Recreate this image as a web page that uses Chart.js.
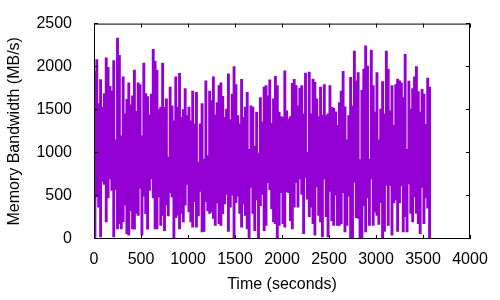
<!DOCTYPE html>
<html>
<head>
<meta charset="utf-8">
<script src="https://cdn.jsdelivr.net/npm/chart.js@4/dist/chart.umd.min.js"></script>
<style>
html,body{margin:0;padding:0;background:#fff;}
#wrap{width:500px;height:300px;}
</style>
</head>
<body>
<div id="wrap"><canvas id="c" width="500" height="300"></canvas></div>
<script>
// Sampling interval of the summarised series (seconds per bucket)
const sampleSeconds = 20;

// Highest bandwidth reached within each 20 s bucket (MB/s)
const peaks = [
  1942,2079,1570,1847,1525,1685,2100,1990,1770,1715,
  2070,1150,2330,2130,1195,1880,1450,1620,1810,1555,
  1660,1960,1480,1810,1790,1195,2040,1685,1650,1440,
  1680,2200,2060,1960,1500,1530,2040,1525,1625,950,
  1760,1545,1370,1880,1525,1920,1410,1500,1745,1430,
  1530,1370,1715,1335,1700,890,1335,1570,925,1835,
  965,1715,1605,1880,1440,1580,1780,1810,1655,1410,
  1505,1915,1385,1680,2000,1790,1430,1335,1850,1410,
  1530,1700,1040,1545,1530,1075,1470,995,1640,1355,
  1760,1780,1660,1845,1340,1625,1885,1780,1470,1420,
  1411,1950,1487,1392,1420,1805,1850,1780,1545,1750,
  1780,1450,1925,1005,1935,1450,1855,1815,1625,1420,
  1760,1437,1790,1430,1450,1780,1525,1517,1475,1316,
  1582,1715,1945,1532,1150,1430,1875,1545,2180,1830,
  1930,920,1723,1970,2240,2005,925,2190,1780,1470,
  1930,1150,1505,1825,1450,2180,1970,1487,1780,1316,
  1790,1855,1835,1810,1640,2140,1040,1830,1505,1745,
  1880,2000,1708,1470,1735,1680,1330,1865,1760
];

// Lowest bandwidth reached within each 20 s bucket (MB/s)
const troughs = [
  20,490,370,25,670,635,200,480,700,565,
  25,575,120,180,120,200,395,65,45,330,
  120,115,300,275,590,45,500,295,115,565,
  700,480,120,120,490,160,275,100,395,270,
  540,490,0,250,280,120,300,200,395,635,
  315,200,140,435,140,270,555,85,90,435,
  330,300,315,240,160,420,180,160,295,410,
  520,90,370,510,15,425,500,300,140,405,
  275,120,15,600,300,100,455,0,390,520,
  100,160,655,575,350,200,180,0,160,540,
  180,140,550,540,215,120,370,660,370,700,
  520,65,715,465,260,370,180,45,605,275,
  200,25,700,260,25,555,215,160,510,160,
  160,180,540,85,160,500,15,0,660,250,
  240,15,0,390,85,480,160,700,160,315,
  275,170,425,15,90,625,160,625,45,420,
  455,90,420,620,85,260,85,640,300,200,
  490,300,180,65,600,180,480,360,15
];

const xTicks = [0,500,1000,1500,2000,2500,3000,3500,4000];
const yTicks = [0,500,1000,1500,2000,2500];
const xTitle = 'Time (seconds)';
const yTitle = 'Memory Bandwidth (MB/s)';

// each bucket drawn as the range it covered, centred on the bucket
const ranges = peaks.map((p, i) => ({x: i * sampleSeconds + sampleSeconds / 2, y: [troughs[i], p]}));

const FONT = "'Liberation Sans', Arial, sans-serif";

const framePlugin = {
  id: 'frame',
  afterDatasetsDraw(chart) {
    const {ctx, chartArea: a, scales: {x, y}} = chart;
    ctx.save();
    ctx.strokeStyle = '#000';
    ctx.lineWidth = 1;
    ctx.beginPath();
    ctx.rect(a.left + 0.5, a.top + 0.5, a.right - a.left - 1, a.bottom - a.top - 1);
    ctx.stroke();
    const tl = 4;
    ctx.beginPath();
    xTicks.forEach(v => {
      const px = Math.round(x.getPixelForValue(v)) + 0.5;
      ctx.moveTo(px, a.bottom); ctx.lineTo(px, a.bottom - tl);
      ctx.moveTo(px, a.top); ctx.lineTo(px, a.top + tl);
    });
    yTicks.forEach(v => {
      const py = Math.round(y.getPixelForValue(v)) - 0.5;
      ctx.moveTo(a.left, py); ctx.lineTo(a.left + tl, py);
      ctx.moveTo(a.right, py); ctx.lineTo(a.right - tl, py);
    });
    ctx.stroke();
    ctx.restore();
  }
};

new Chart(document.getElementById('c'), {
  type: 'bar',
  data: {
    datasets: [{
      data: ranges,
      backgroundColor: '#9400d3',
      borderWidth: 0,
      barPercentage: 1,
      categoryPercentage: 1,
      inflateAmount: 0.5
    }]
  },
  options: {
    responsive: false,
    animation: false,
    devicePixelRatio: 1,
    layout: {padding: {left: 0, top: 19, right: 30, bottom: 0}},
    plugins: {legend: {display: false}, tooltip: {enabled: false}},
    scales: {
      x: {
        type: 'linear',
        min: 0, max: 4000,
        offset: false,
        afterBuildTicks: s => { s.ticks = xTicks.map(v => ({value: v})); },
        afterFit: s => { s.height = 61; },
        grid: {display: false, offset: false},
        border: {display: false},
        ticks: {color: '#000', font: {family: FONT, size: 16}, padding: 3, maxRotation: 0, autoSkip: false,
                callback: v => String(v)},
        title: {display: true, text: xTitle, color: '#000', font: {family: FONT, size: 16}, padding: {top: 0, bottom: 6}}
      },
      y: {
        type: 'linear',
        min: 0, max: 2500,
        afterBuildTicks: s => { s.ticks = yTicks.map(v => ({value: v})); },
        afterFit: s => { s.width = 94; },
        grid: {display: false},
        border: {display: false},
        ticks: {color: '#000', font: {family: FONT, size: 16}, padding: 14, autoSkip: false,
                callback: v => String(v)},
        title: {display: true, text: yTitle, color: '#000', font: {family: FONT, size: 16}, padding: {top: 5, bottom: 0}}
      }
    }
  },
  plugins: [framePlugin]
});
</script>
</body>
</html>
